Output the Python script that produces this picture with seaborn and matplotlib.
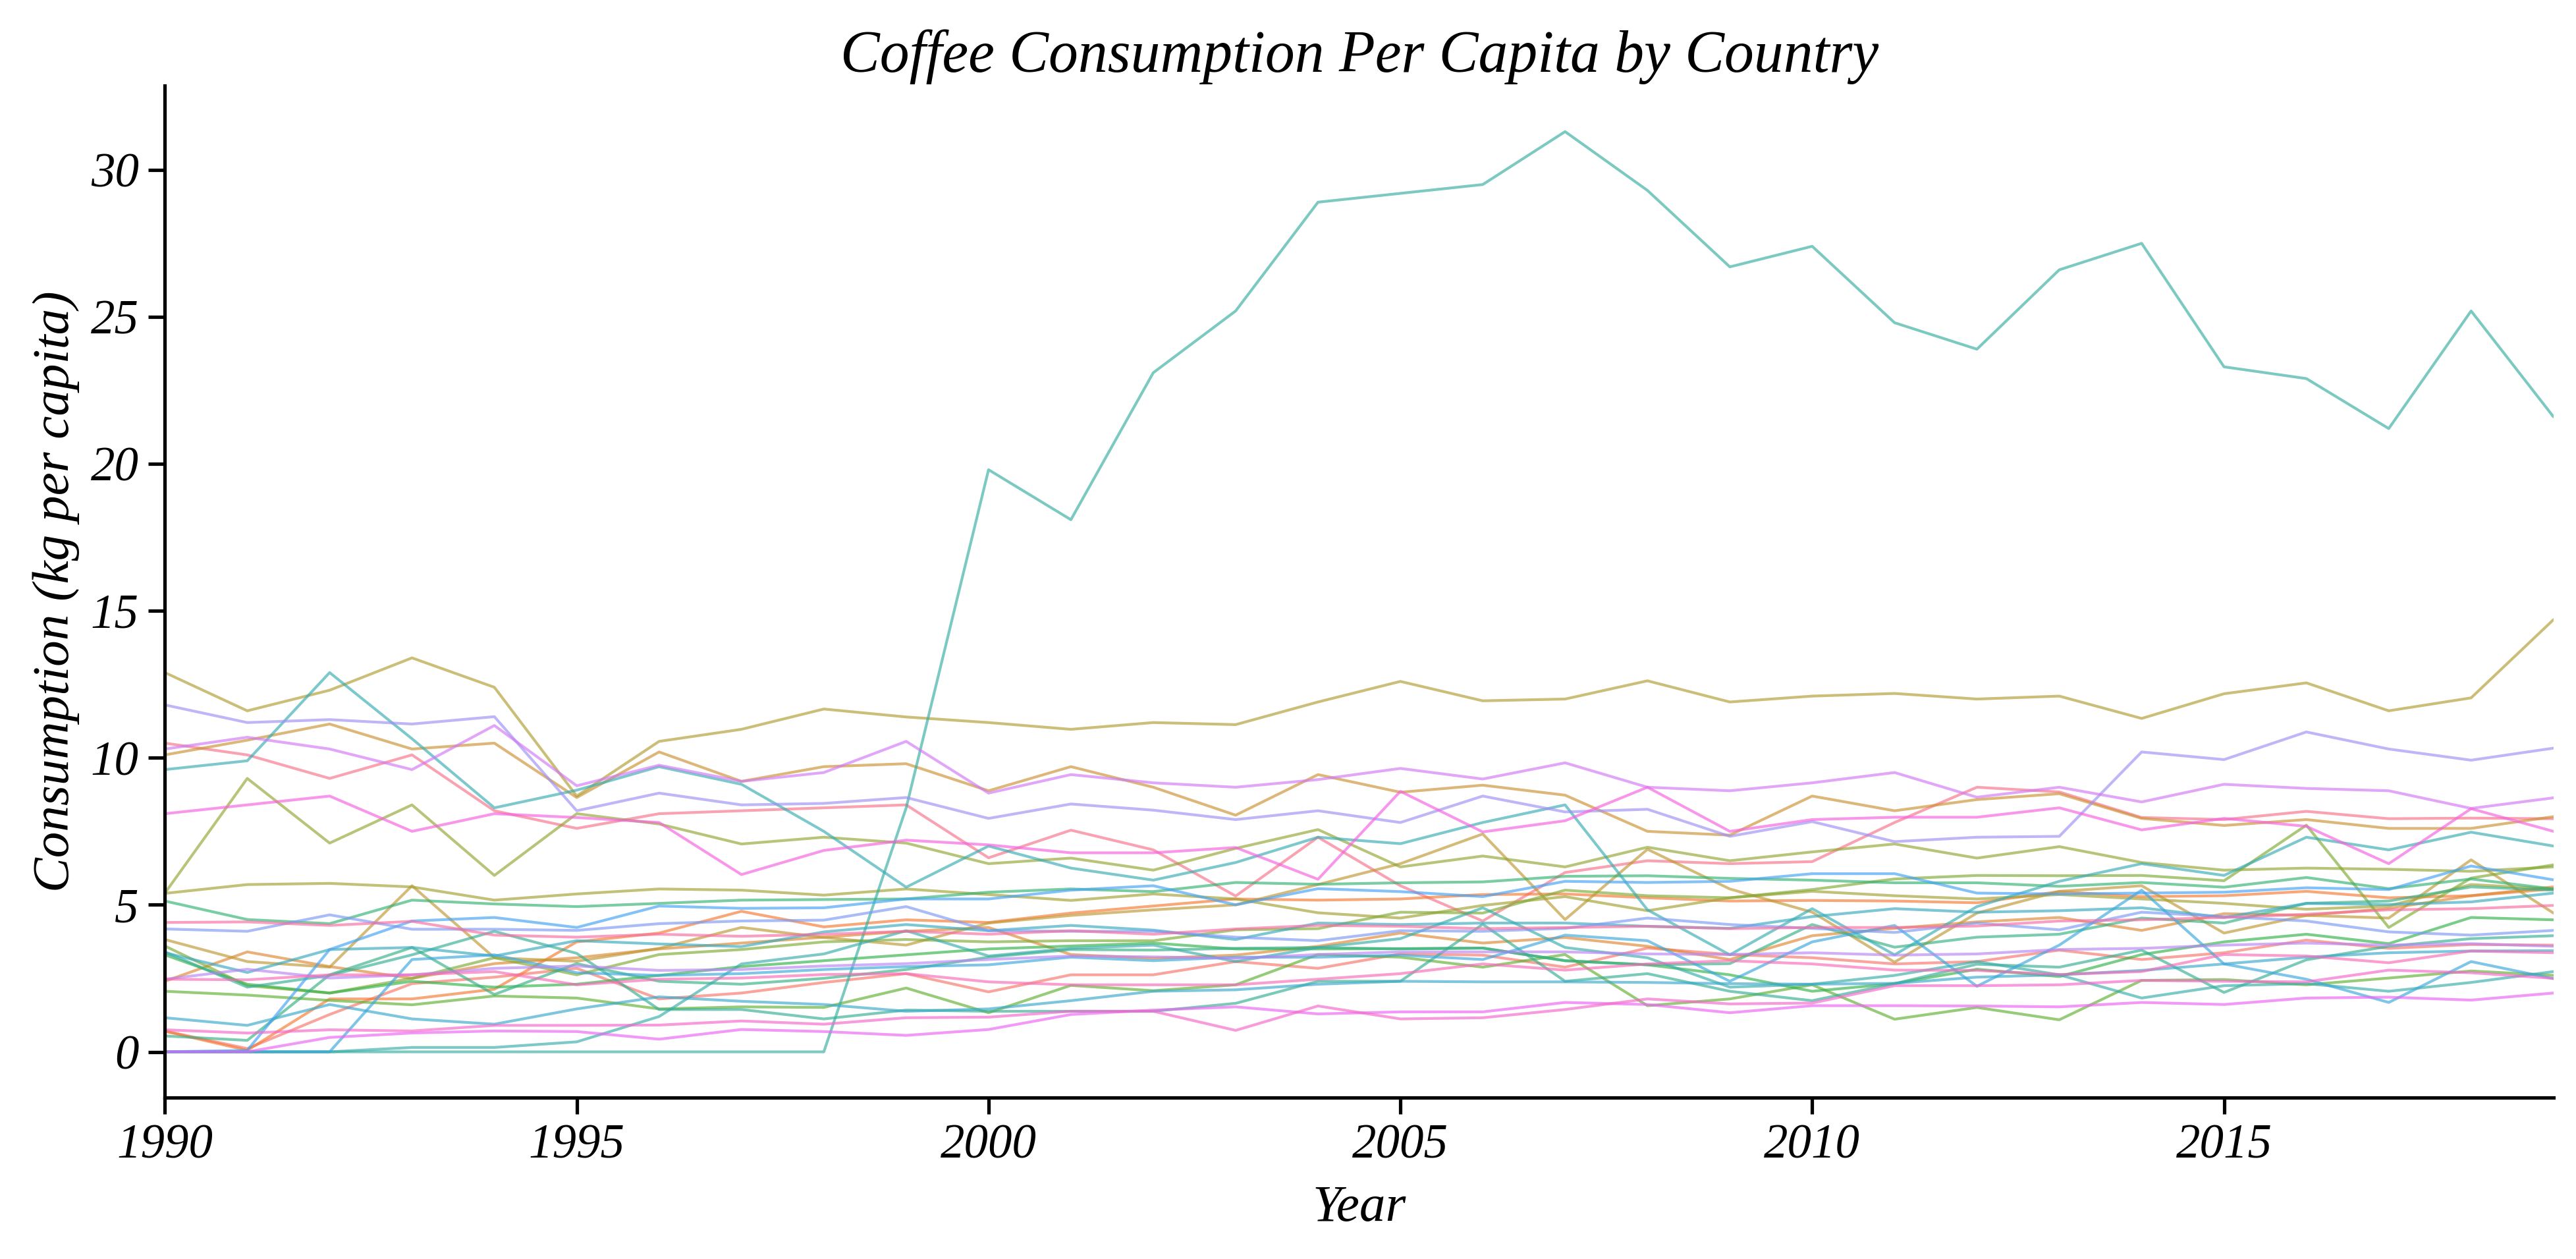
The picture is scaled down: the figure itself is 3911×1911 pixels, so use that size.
import matplotlib
matplotlib.use("Agg")
import matplotlib.pyplot as plt
import pandas as pd
import seaborn as sns

years = list(range(1990, 2020))

# series listed in palette (hue) order
netherlands = [10.5, 10.1, 9.3, 10.1, 8.2, 7.6, 8.1, 8.2, 8.3, 8.4, 6.6, 7.54, 6.87, 5.3, 7.3, 5.65, 4.45, 6.1, 6.5, 6.4, 6.47, 7.8, 9.0, 8.84, 7.97, 7.9, 8.18, 7.93, 7.95, 7.93]
austria = [0.71, 0.11, 1.27, 2.32, 2.54, 2.84, 1.8, 2.0, 2.36, 2.66, 2.04, 2.62, 2.62, 3.07, 2.84, 3.33, 3.29, 2.88, 3.53, 3.31, 3.2, 2.99, 3.07, 3.46, 3.14, 3.37, 3.8, 3.52, 3.65, 3.63]
brazil = [0.7, 0.05, 1.8, 1.8, 2.13, 3.74, 4.04, 4.78, 4.25, 4.49, 4.4, 4.72, 4.96, 5.2, 5.16, 5.2, 5.35, 5.37, 5.24, 5.13, 5.15, 5.13, 5.07, 5.45, 5.28, 5.31, 5.46, 5.24, 5.31, 5.61]
germany = [2.4, 3.4, 2.9, 2.5, 3.0, 3.2, 3.5, 3.7, 3.9, 4.1, 4.23, 3.31, 3.18, 3.29, 3.59, 4.04, 3.7, 3.89, 3.59, 3.14, 3.95, 4.2, 4.42, 4.57, 4.13, 4.7, 4.64, 4.88, 5.31, 5.54]
norway = [10.1, 10.6, 11.15, 10.3, 10.5, 8.65, 10.2, 9.2, 9.7, 9.8, 8.88, 9.7, 9.0, 8.05, 9.43, 8.83, 9.07, 8.73, 7.5, 7.37, 8.7, 8.2, 8.58, 8.78, 7.94, 7.7, 7.9, 7.6, 7.6, 8.0]
switzerland = [3.82, 3.07, 2.88, 5.65, 3.2, 3.08, 3.52, 4.23, 3.89, 3.63, 4.38, 4.64, 4.83, 5.0, 5.69, 6.4, 7.41, 4.5, 6.89, 5.54, 4.75, 3.05, 4.72, 5.46, 5.65, 4.04, 4.64, 4.55, 6.53, 4.72]
finland = [12.9, 11.6, 12.3, 13.4, 12.4, 8.7, 10.56, 10.97, 11.66, 11.39, 11.2, 10.97, 11.2, 11.13, 11.9, 12.6, 11.94, 12.0, 12.62, 11.9, 12.1, 12.19, 12.0, 12.1, 11.34, 12.18, 12.55, 11.6, 12.04, 14.7]
belgium = [5.39, 5.69, 5.73, 5.61, 5.16, 5.37, 5.54, 5.5, 5.33, 5.54, 5.35, 5.15, 5.37, 5.2, 4.73, 4.55, 4.98, 5.28, 4.8, 5.24, 5.46, 5.31, 5.2, 5.35, 5.2, 5.05, 4.85, 4.96, 5.69, 5.54]
denmark = [5.4, 9.3, 7.1, 8.4, 6.0, 8.1, 7.75, 7.07, 7.3, 7.1, 6.4, 6.59, 6.18, 6.92, 7.56, 6.29, 6.66, 6.29, 6.96, 6.5, 6.8, 7.07, 6.59, 6.98, 6.44, 6.18, 6.25, 6.21, 6.14, 6.29]
canada = [3.6, 2.25, 2.0, 2.5, 3.2, 2.62, 3.31, 3.48, 3.74, 3.82, 3.74, 3.78, 3.78, 4.15, 4.19, 4.75, 4.72, 5.5, 5.31, 5.24, 5.52, 5.88, 6.0, 5.99, 6.0, 5.82, 7.71, 4.23, 5.91, 6.36]
colombia = [2.06, 1.93, 1.75, 1.6, 1.9, 1.83, 1.46, 1.53, 1.51, 2.17, 1.33, 2.26, 2.08, 2.28, 3.31, 3.22, 2.88, 3.31, 1.57, 1.8, 2.28, 1.11, 1.51, 1.09, 2.43, 2.46, 2.28, 2.51, 2.75, 2.6]
costa_rica = [3.3, 2.3, 2.0, 2.4, 2.2, 2.3, 2.6, 2.9, 3.1, 3.3, 3.5, 3.6, 3.7, 3.5, 3.5, 3.51, 3.53, 3.1, 2.96, 2.62, 2.06, 2.32, 2.81, 2.56, 3.31, 3.74, 4.0, 3.68, 4.57, 4.49]
sweden = [5.13, 4.5, 4.36, 5.16, 5.03, 4.94, 5.05, 5.16, 5.18, 5.2, 5.43, 5.54, 5.45, 5.76, 5.7, 5.75, 5.78, 5.97, 5.99, 5.9, 5.84, 5.75, 5.75, 5.63, 5.76, 5.6, 5.93, 5.55, 5.88, 5.54]
italy = [0.54, 0.39, 2.62, 3.55, 1.95, 3.0, 2.4, 2.3, 2.5, 2.8, 3.22, 3.48, 3.46, 3.52, 3.55, 3.5, 3.53, 3.1, 2.96, 3.0, 4.33, 3.56, 3.9, 4.0, 4.55, 4.38, 5.05, 5.13, 5.61, 5.5]
ethiopia = [3.4, 2.2, 2.6, 3.3, 4.1, 3.35, 1.44, 1.44, 1.12, 1.42, 1.38, 1.38, 1.38, 1.65, 2.4, 2.4, 4.34, 2.4, 2.66, 2.06, 1.74, 2.32, 2.98, 2.88, 3.46, 2.02, 3.13, 3.59, 3.85, 3.95]
luxembourg = [0.0, 0.0, 0.0, 0.0, 0.0, 0.0, 0.0, 0.0, 0.0, 8.3, 19.8, 18.1, 23.1, 25.2, 28.9, 29.2, 29.5, 31.3, 29.3, 26.7, 27.4, 24.8, 23.9, 26.6, 27.5, 23.3, 22.9, 21.2, 25.2, 21.6]
vietnam = [0.0, 0.0, 0.0, 0.15, 0.15, 0.34, 1.2, 2.99, 3.33, 4.12, 3.26, 3.52, 3.63, 3.07, 3.55, 3.85, 4.9, 3.55, 3.2, 2.2, 2.3, 2.6, 3.07, 2.62, 1.83, 2.25, 2.32, 2.06, 2.36, 2.73]
iceland = [9.6, 9.9, 12.9, 10.65, 8.3, 8.9, 9.7, 9.1, 7.5, 5.6, 7.0, 6.25, 5.84, 6.44, 7.3, 7.08, 7.8, 8.4, 4.83, 3.3, 4.87, 3.3, 4.94, 5.8, 6.4, 6.0, 7.3, 6.87, 7.47, 7.0]
france = [3.37, 2.7, 3.48, 3.55, 3.26, 3.78, 3.67, 3.58, 4.08, 4.33, 4.12, 4.3, 4.14, 3.82, 4.38, 4.33, 4.38, 4.38, 4.27, 4.2, 4.6, 4.87, 4.75, 4.8, 4.9, 4.57, 5.05, 5.01, 5.1, 5.4]
japan = [1.16, 0.9, 1.61, 1.12, 0.94, 1.46, 1.87, 1.72, 1.61, 1.38, 1.46, 1.74, 2.06, 2.11, 2.3, 2.4, 2.38, 2.38, 2.36, 2.32, 2.3, 2.33, 2.54, 2.62, 2.77, 2.99, 3.22, 3.37, 3.43, 3.44]
russia = [0.0, 0.0, 0.0, 3.14, 3.3, 2.69, 2.6, 2.66, 2.8, 2.9, 2.96, 3.22, 3.1, 3.22, 3.22, 3.29, 3.14, 3.97, 3.78, 2.4, 3.74, 4.3, 2.23, 3.63, 5.5, 2.99, 2.47, 1.68, 3.07, 2.49]
united_states = [0.0, 0.05, 3.48, 4.45, 4.57, 4.23, 4.96, 4.88, 4.9, 5.2, 5.2, 5.5, 5.65, 5.0, 5.55, 5.45, 5.28, 5.8, 5.76, 5.8, 6.06, 6.06, 5.4, 5.37, 5.4, 5.43, 5.58, 5.52, 6.32, 5.85]
spain = [4.18, 4.1, 4.66, 4.17, 4.17, 4.13, 4.36, 4.45, 4.48, 4.94, 4.12, 4.1, 4.1, 3.9, 3.78, 4.12, 4.1, 4.2, 4.55, 4.33, 4.2, 4.06, 4.38, 4.15, 4.75, 4.6, 4.45, 4.08, 3.97, 4.13]
slovenia = [11.8, 11.2, 11.3, 11.15, 11.4, 8.2, 8.8, 8.4, 8.45, 8.65, 7.94, 8.43, 8.22, 7.9, 8.2, 7.8, 8.7, 8.16, 8.25, 7.33, 7.83, 7.15, 7.3, 7.33, 10.2, 9.94, 10.88, 10.3, 9.92, 10.33]
portugal = [2.47, 2.81, 2.51, 2.62, 2.84, 2.92, 2.77, 2.8, 2.92, 3.0, 3.14, 3.26, 3.23, 3.18, 3.31, 3.4, 3.4, 3.4, 3.33, 3.31, 3.37, 3.29, 3.33, 3.48, 3.52, 3.63, 3.7, 3.63, 3.68, 3.59]
greece = [10.3, 10.7, 10.3, 9.6, 11.1, 9.05, 9.75, 9.2, 9.5, 10.56, 8.8, 9.43, 9.15, 9.0, 9.26, 9.64, 9.28, 9.83, 9.0, 8.88, 9.15, 9.5, 8.66, 9.0, 8.5, 9.1, 8.96, 8.88, 8.28, 8.64]
china = [0.0, 0.0, 0.49, 0.64, 0.71, 0.69, 0.43, 0.76, 0.69, 0.56, 0.76, 1.27, 1.42, 1.53, 1.29, 1.36, 1.36, 1.68, 1.61, 1.33, 1.57, 1.57, 1.56, 1.53, 1.68, 1.61, 1.83, 1.86, 1.76, 2.0]
lebanon = [8.1, 8.4, 8.7, 7.5, 8.1, 7.97, 7.8, 6.03, 6.85, 7.2, 7.04, 6.77, 6.77, 6.95, 5.87, 8.86, 7.48, 7.86, 9.0, 7.5, 7.9, 7.98, 7.98, 8.3, 7.55, 7.94, 7.67, 6.4, 8.27, 7.5]
india = [0.75, 0.64, 0.75, 0.71, 0.9, 0.9, 0.91, 1.05, 0.94, 1.16, 1.18, 1.38, 1.38, 0.73, 1.56, 1.12, 1.16, 1.44, 1.8, 1.63, 1.66, 2.25, 2.25, 2.28, 2.43, 2.4, 2.38, 2.78, 2.69, 2.5]
united_kingdom = [2.47, 2.45, 2.62, 2.62, 2.73, 2.28, 2.47, 2.51, 2.63, 2.66, 2.38, 2.28, 2.28, 2.28, 2.47, 2.66, 2.99, 2.78, 2.99, 3.1, 2.99, 2.78, 2.77, 2.63, 2.73, 3.31, 3.26, 3.03, 3.43, 3.37]
australia = [4.4, 4.42, 4.3, 4.44, 3.97, 3.9, 4.0, 3.93, 4.0, 4.1, 4.0, 4.12, 4.0, 4.18, 4.3, 4.27, 4.19, 4.23, 4.27, 4.19, 4.23, 4.23, 4.28, 4.45, 4.49, 4.57, 4.68, 4.83, 4.87, 4.98]

countries = [
    ("Netherlands", netherlands), ("Austria", austria), ("Brazil", brazil),
    ("Germany", germany), ("Norway", norway), ("Switzerland", switzerland),
    ("Finland", finland), ("Belgium", belgium), ("Denmark", denmark),
    ("Canada", canada), ("Colombia", colombia), ("Costa Rica", costa_rica),
    ("Sweden", sweden), ("Italy", italy), ("Ethiopia", ethiopia),
    ("Luxembourg", luxembourg), ("Vietnam", vietnam), ("Iceland", iceland),
    ("France", france), ("Japan", japan), ("Russia", russia),
    ("United States", united_states), ("Spain", spain), ("Slovenia", slovenia),
    ("Portugal", portugal), ("Greece", greece), ("China", china),
    ("Lebanon", lebanon), ("India", india), ("United Kingdom", united_kingdom),
    ("Australia", australia),
]

rows = []
for name, vals in countries:
    for y, v in zip(years, vals):
        rows.append({"Year": y, "Consumption": v, "Country": name})
df = pd.DataFrame(rows)
hue_order = [n for n, _ in countries]

sns.set_theme(style="ticks")
plt.rcParams["font.family"] = ["Liberation Serif", "DejaVu Serif"]
plt.rcParams["font.style"] = "italic"
plt.rcParams["text.color"] = "black"
plt.rcParams["axes.labelcolor"] = "black"
plt.rcParams["axes.edgecolor"] = "black"
plt.rcParams["xtick.color"] = "black"
plt.rcParams["ytick.color"] = "black"

fig = plt.figure(figsize=(13.04, 6.37), dpi=300)
ax = fig.add_axes([0.064, 0.128, 0.927, 0.804])

sns.lineplot(data=df, x="Year", y="Consumption", hue="Country",
             hue_order=hue_order, palette="husl", alpha=0.65,
             linewidth=1.0, legend=False, ax=ax)

ax.set_xlim(1990, 2019)
ax.set_xticks([1990, 1995, 2000, 2005, 2010, 2015])
ax.set_yticks([0, 5, 10, 15, 20, 25, 30])
ax.tick_params(labelsize=17.5)
ax.set_title("Coffee Consumption Per Capita by Country", fontsize=21.5, pad=5)
ax.set_xlabel("Year", fontsize=19, labelpad=6)
ax.set_ylabel("Consumption (kg per capita)", fontsize=19)
sns.despine(ax=ax)

fig.savefig("out.png", dpi=300)
